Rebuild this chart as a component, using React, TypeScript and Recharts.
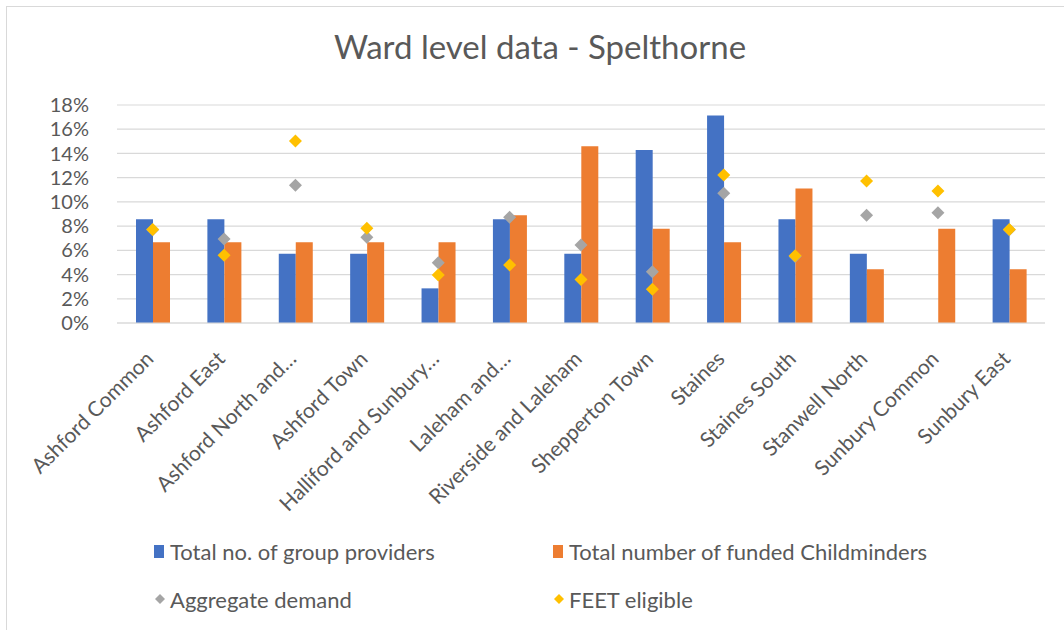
import { ComposedChart, Bar, Scatter, XAxis, YAxis, CartesianGrid } from 'recharts';

const wards = [
  'Ashford Common',
  'Ashford East',
  'Ashford North and…',
  'Ashford Town',
  'Halliford and Sunbury…',
  'Laleham and…',
  'Riverside and Laleham',
  'Shepperton Town',
  'Staines',
  'Staines South',
  'Stanwell North',
  'Sunbury Common',
  'Sunbury East',
];
const groupProviders = [8.57, 8.57, 5.71, 5.71, 2.86, 8.57, 5.71, 14.29, 17.14, 8.57, 5.71, 0, 8.57];
const childminders = [6.67, 6.67, 6.67, 6.67, 6.67, 8.89, 14.6, 7.78, 6.67, 11.11, 4.44, 7.78, 4.44];
const aggregateDemand = [7.7, 6.94, 11.37, 7.07, 4.98, 8.73, 6.44, 4.24, 10.71, 5.5, 8.89, 9.11, 7.7];
const feetEligible = [7.73, 5.59, 15.03, 7.82, 3.96, 4.79, 3.6, 2.78, 12.22, 5.56, 11.73, 10.9, 7.73];
const yTicks = [0, 2, 4, 6, 8, 10, 12, 14, 16, 18];

const BLUE = '#4472C4';
const ORANGE = '#ED7D31';
const GREY = '#A5A5A5';
const GOLD = '#FFC000';
const TEXT = '#595959';
const FONT = 'Lato, "Open Sans", sans-serif';

const data = wards.map((ward, i) => ({
  ward,
  group: groupProviders[i],
  minders: childminders[i],
  demand: aggregateDemand[i],
  feet: feetEligible[i],
}));

const Diamond = ({ cx, cy, fill }: any) => {
  if (cx == null || cy == null) return null;
  const r = 6.5;
  return <polygon points={`${cx},${cy - r} ${cx + r},${cy} ${cx},${cy + r} ${cx - r},${cy}`} fill={fill} />;
};

const WardTick = ({ x, y, payload }: any) => {
  const ax = x - 3;
  const ay = y + 32;
  return (
    <text
      x={ax}
      y={ay}
      dy="0.35em"
      textAnchor="end"
      transform={`rotate(-45 ${ax} ${ay})`}
      fill={TEXT}
      fontSize={21}
      fontFamily={FONT}
    >
      {payload.value}
    </text>
  );
};

const legendItems = [
  { label: 'Total no. of group providers', color: BLUE, kind: 'square', left: 154, top: 551 },
  { label: 'Total number of funded Childminders', color: ORANGE, kind: 'square', left: 553, top: 551 },
  { label: 'Aggregate demand', color: GREY, kind: 'diamond', left: 154, top: 599 },
  { label: 'FEET eligible', color: GOLD, kind: 'diamond', left: 553, top: 599 },
];

export default function App() {
  return (
    <div
      style={{
        position: 'absolute',
        left: 0,
        top: 0,
        width: 1064,
        height: 630,
        overflow: 'hidden',
        background: '#fff',
        fontFamily: FONT,
      }}
    >
      <div
        style={{
          position: 'absolute',
          left: 6,
          top: 6,
          width: 1100,
          height: 700,
          border: '1.5px solid #D9D9D9',
        }}
      />
      <div
        style={{
          position: 'absolute',
          left: 0,
          width: 1080,
          top: 26,
          textAlign: 'center',
          fontSize: 33,
          color: TEXT,
          lineHeight: '40px',
        }}
      >
        Ward level data - Spelthorne
      </div>
      <div style={{ position: 'absolute', left: 0, top: 0 }}>
        <ComposedChart
          width={1064}
          height={630}
          data={data}
          margin={{ top: 105, right: 19, bottom: 187, left: 0 }}
          barCategoryGap={19}
          barGap={0}
        >
          <CartesianGrid vertical={false} stroke="#D9D9D9" strokeWidth={1.2} />
          <XAxis
            dataKey="ward"
            interval={0}
            height={120}
            tickLine={false}
            tickSize={0}
            tickMargin={0}
            axisLine={{ stroke: '#D9D9D9', strokeWidth: 1.2 }}
            tick={<WardTick />}
          />
          <YAxis
            width={117}
            domain={[0, 18]}
            ticks={yTicks}
            interval={0}
            axisLine={false}
            tickLine={false}
            tickMargin={22}
            tickFormatter={(v: number) => `${v}%`}
            tick={{ fill: TEXT, fontSize: 20, fontFamily: FONT }}
          />
          <Bar dataKey="group" fill={BLUE} isAnimationActive={false} />
          <Bar dataKey="minders" fill={ORANGE} isAnimationActive={false} />
          <Scatter dataKey="demand" fill={GREY} shape={<Diamond />} isAnimationActive={false} />
          <Scatter dataKey="feet" fill={GOLD} shape={<Diamond />} isAnimationActive={false} />
        </ComposedChart>
      </div>
      {legendItems.map((item) => (
        <div
          key={item.label}
          style={{
            position: 'absolute',
            left: item.left,
            top: item.top - 14,
            height: 28,
            display: 'flex',
            alignItems: 'center',
            fontSize: 22,
            color: TEXT,
            whiteSpace: 'nowrap',
          }}
        >
          {item.kind === 'square' ? (
            <span style={{ display: 'inline-block', width: 10, height: 13, background: item.color, marginRight: 6 }} />
          ) : (
            <svg width={12} height={12} style={{ marginRight: 4 }}>
              <polygon points="6,1 11,6 6,11 1,6" fill={item.color} />
            </svg>
          )}
          {item.label}
        </div>
      ))}
    </div>
  );
}
